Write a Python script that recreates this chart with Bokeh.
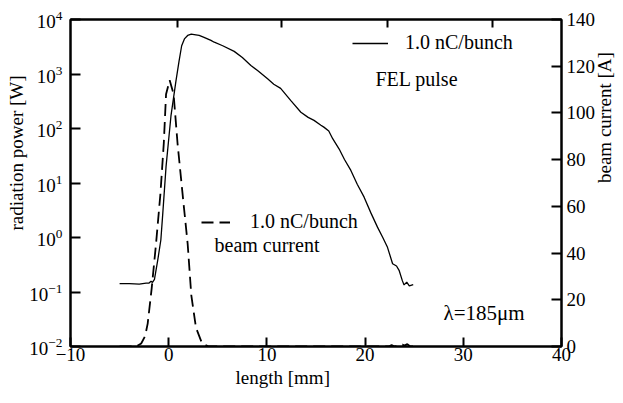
import math
from bokeh.plotting import figure
from bokeh.models import (Range1d, LinearAxis, FixedTicker, Label, Legend, LegendItem,
                          LinearScale, CustomJSTickFormatter, Title)
from bokeh.embed import file_html
from bokeh.resources import INLINE

# ---- data ----
fel_x = [-5.0, -4.0, -3.0, -2.3, -2.0, -1.8, -1.65, -1.45, -1.12, -0.8, -0.6, -0.27,
         0.23, 0.74, 1.05, 1.32, 1.6, 1.93, 2.3, 2.6, 3.1, 3.6, 4.3, 4.64, 5.5, 6.67,
         7.5, 8.37, 9.05, 10.07, 10.7, 11.4, 12.44, 13.46, 14.2, 14.8, 15.5, 15.8,
         16.3, 16.7, 17.36, 17.9, 18.55, 19.2, 19.9, 20.6, 21.26, 21.8, 22.28, 22.8,
         23.2, 23.46, 23.8, 23.97, 24.24, 24.5, 24.9]
fel_power = [0.143, 0.142, 0.14, 0.145, 0.146, 0.158, 0.15, 0.17, 0.38, 0.9, 2.8, 20,
             170, 750, 1700, 3300, 4400, 5100, 5400, 5300, 5100, 4700, 4150, 3830, 3300, 2600,
             2000, 1430, 1160, 815, 650, 545, 325, 199, 160, 141, 115, 106,
             90, 65, 42, 27, 17, 9.5, 5.5, 2.8, 1.55, 1.0, 0.66, 0.33,
             0.3, 0.25, 0.16, 0.135, 0.152, 0.13, 0.137]

cur_x = [-5.0, -3.3, -2.8, -2.4, -2.14, -1.73, -1.29, -0.85, -0.5, -0.27, 0.1, 0.5, 0.9,
         1.42, 1.93, 2.3, 2.78, 3.4, 4.1, 5.0, 22.4, 22.7, 23.0, 23.5, 23.8, 24.0, 24.3,
         24.6, 25.0]
cur_amp = [0, 0, 1.3, 4.5, 9.8, 25, 44, 65, 87, 108, 114, 108, 87,
           65, 44, 22, 8, 1.3, 0, 0, 0, 0.6, 0, 0.5, 0.8, 0.4, 1.0,
           0, 0]

x_ticks = [-10, 0, 10, 20, 30, 40]
top_ticks = [0.85, 11.5, 22.25, 33.0]
cur_ticks = [0, 20, 40, 60, 80, 100, 120, 140]

FONT = "'Liberation Serif', 'Times New Roman', serif"

p = figure(frame_width=491, frame_height=327,
           x_range=Range1d(-10, 40), y_range=Range1d(1e-2, 1e4),
           y_axis_type="log", output_backend="svg", toolbar_location=None,
           min_border_left=70, min_border_right=60, min_border_top=19,
           min_border_bottom=50)
p.grid.visible = False
p.outline_line_color = "black"
p.outline_line_width = 2
p.background_fill_color = "white"
p.border_fill_color = "white"

p.extra_y_ranges = {"cur": Range1d(0, 140)}
p.extra_y_scales = {"cur": LinearScale()}

r_fel = p.line(fel_x, fel_power, line_color="black", line_width=1.3)
r_cur = p.line(cur_x, cur_amp, y_range_name="cur", line_color="black",
               line_width=1.8, line_dash="12 6")

def style_axis(ax, tick_in=10):
    ax.axis_line_width = 2
    ax.axis_line_color = "black"
    ax.major_tick_in = tick_in
    ax.major_tick_out = 0
    ax.major_tick_line_width = 2
    ax.minor_tick_line_color = None
    ax.major_label_text_font = FONT
    ax.major_label_text_font_size = "19px"
    ax.major_label_text_color = "black"

xa = p.xaxis[0]
xa.ticker = FixedTicker(ticks=x_ticks)
style_axis(xa, 9)
xa.major_label_standoff = 1

ya = p.yaxis[0]
style_axis(ya, 10)
ya.major_label_standoff = 4

ra = LinearAxis(y_range_name="cur", ticker=FixedTicker(ticks=cur_ticks))
style_axis(ra, 10)
ra.major_label_standoff = 5
ra.axis_label = "beam current [A]"
ra.axis_label_orientation = math.pi / 2
ra.axis_label_standoff = 6
ra.axis_label_text_font = FONT
ra.axis_label_text_font_size = "19px"
ra.axis_label_text_font_style = "normal"
ra.axis_label_text_color = "black"
p.add_layout(ra, "right")

ta = LinearAxis(ticker=FixedTicker(ticks=top_ticks),
                formatter=CustomJSTickFormatter(code="return ''"))
style_axis(ta, 8)
ta.major_label_standoff = 0
p.add_layout(ta, "above")

# axis titles, offset along the axes like the reference
p.add_layout(Title(text="radiation power [W]", align="left", offset=116, standoff=0,
                   text_font=FONT, text_font_size="19px", text_font_style="normal",
                   text_color="black"), "left")
p.add_layout(Title(text="length [mm]", align="left", offset=165, standoff=3,
                   text_font=FONT, text_font_size="19px", text_font_style="normal",
                   text_color="black"), "below")

def add_label(x, y, text, size):
    p.add_layout(Label(x=x, y=y, x_units="screen", y_units="screen", text=text,
                       text_align="left", text_baseline="middle",
                       text_font=FONT, text_font_size=size, text_color="black"))

# annotations inside the frame
add_label(305, 268, "FEL pulse", "20px")
add_label(144, 102, "beam current", "20px")
add_label(373, 34, "λ=185μm", "21px")

def make_legend(item_label, renderer, loc, gw, standoff):
    return Legend(items=[LegendItem(label=item_label, renderers=[renderer])],
                  location=loc, border_line_color=None, background_fill_alpha=0,
                  padding=0, margin=0, spacing=0, glyph_width=gw, glyph_height=20,
                  label_standoff=standoff, label_text_font=FONT,
                  label_text_font_size="20px", label_height=20,
                  label_text_color="black")

p.add_layout(make_legend("1.0 nC/bunch", r_fel, (282, 292), 36, 17))
p.add_layout(make_legend("1.0 nC/bunch", r_cur, (131, 113), 29, 20))

open("out.html", "w").write(file_html(p, INLINE))
